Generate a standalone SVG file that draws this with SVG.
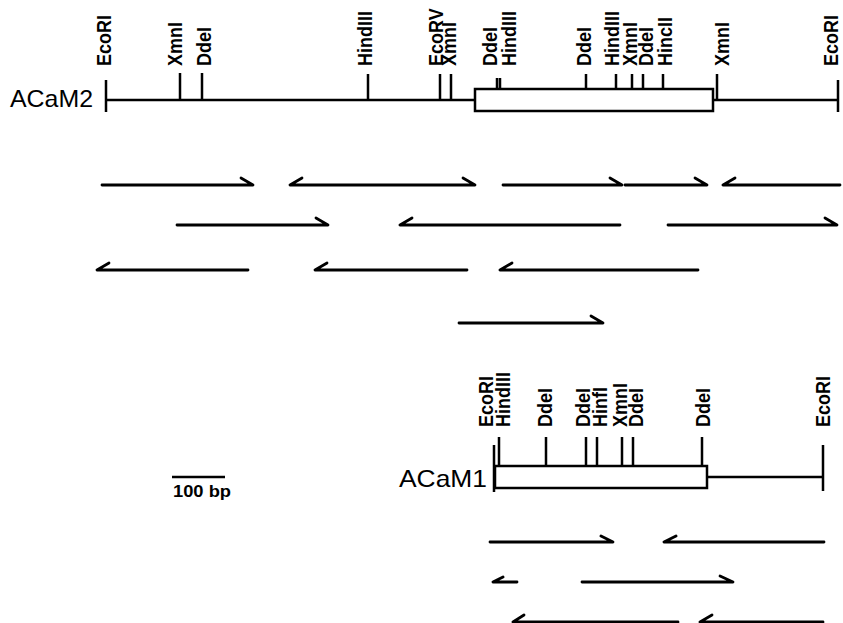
<svg xmlns="http://www.w3.org/2000/svg" width="843" height="623" viewBox="0 0 843 623">
<style>
.ln{stroke:#000;stroke-width:2.5;fill:none}
.bx{stroke:#000;stroke-width:2.5;fill:#fff}
.ar{stroke:#000;stroke-width:2.8;fill:none;stroke-linecap:round;stroke-linejoin:round}
.lb{font-family:"Liberation Sans",Arial,sans-serif;font-weight:bold;font-size:18px;fill:#000}
.nm{font-family:"Liberation Sans",Arial,sans-serif;font-size:24px;fill:#000}
.sc{font-family:"Liberation Sans",Arial,sans-serif;font-weight:bold;font-size:16px;fill:#000}
</style>
<rect width="843" height="623" fill="#fff"/>

<g id="ACaM2">
<text class="nm" x="10" y="107" textLength="83" lengthAdjust="spacingAndGlyphs">ACaM2</text>
<path class="ln" d="M106 100H475M713 100H838"/>
<rect class="bx" x="475" y="89" width="238" height="22"/>
<path class="ln" d="M106 80V112M180 73V100M202 73V100M368 74V100M440 74V100M451 74V100M497 78V89M500 78V89M586 74V89M616 74V89M632 74V89M643 74V89M663 74V89M717 74V100M838 80V112"/>
<g class="lb">
<text transform="translate(111,66) rotate(-90) scale(1,1.15)">EcoRI</text>
<text transform="translate(182,66) rotate(-90) scale(1,1.15)">XmnI</text>
<text transform="translate(211,66) rotate(-90) scale(1,1.15)">DdeI</text>
<text transform="translate(372,66) rotate(-90) scale(1,1.15)">HindIII</text>
<text transform="translate(443,66) rotate(-90) scale(1,1.15)">EcoRV</text>
<text transform="translate(456,66) rotate(-90) scale(1,1.15)">XmnI</text>
<text transform="translate(497,66) rotate(-90) scale(1,1.15)">DdeI</text>
<text transform="translate(516,66) rotate(-90) scale(1,1.15)">HindIII</text>
<text transform="translate(591,66) rotate(-90) scale(1,1.15)">DdeI</text>
<text transform="translate(619,66) rotate(-90) scale(1,1.15)">HindIII</text>
<text transform="translate(637,66) rotate(-90) scale(1,1.15)">XmnI</text>
<text transform="translate(653,66) rotate(-90) scale(1,1.15)">DdeI</text>
<text transform="translate(672,66) rotate(-90) scale(1,1.15)">HincII</text>
<text transform="translate(729,66) rotate(-90) scale(1,1.15)">XmnI</text>
<text transform="translate(838,66) rotate(-90) scale(1,1.15)">EcoRI</text>
</g>
</g>

<g id="fragments-ACaM2">
<path class="ar" d="M102 185H253L241 178"/>
<path class="ar" d="M302 178L290 185H475L463 178"/>
<path class="ar" d="M503 185H622L610 178"/>
<path class="ar" d="M625 185H707L695 178"/>
<path class="ar" d="M735 178L723 185H840"/>
<path class="ar" d="M177 225H328L316 218"/>
<path class="ar" d="M412 218L400 225H620"/>
<path class="ar" d="M668 225H837L825 218"/>
<path class="ar" d="M109 263L97 270H248"/>
<path class="ar" d="M327 263L315 270H467"/>
<path class="ar" d="M512 263L500 270H698"/>
<path class="ar" d="M459 323H603L591 316"/>
</g>

<g id="scale">
<path class="ln" d="M172 477H225"/>
<text class="sc" x="173" y="497" textLength="58" lengthAdjust="spacingAndGlyphs">100 bp</text>
</g>

<g id="ACaM1">
<text class="nm" x="399" y="487" textLength="88" lengthAdjust="spacingAndGlyphs">ACaM1</text>
<path class="ln" d="M707 477H823"/>
<rect class="bx" x="495" y="466" width="212" height="22"/>
<path class="ln" d="M494 445V492M823 445V491M499 437V466M546 437V466M586 437V466M597 437V466M622 437V466M633 437V466M702 437V466"/>
<g class="lb">
<text transform="translate(493,427) rotate(-90) scale(1,1.15)">EcoRI</text>
<text transform="translate(510,427) rotate(-90) scale(1,1.15)">HindIII</text>
<text transform="translate(552,427) rotate(-90) scale(1,1.15)">DdeI</text>
<text transform="translate(590,427) rotate(-90) scale(1,1.15)">DdeI</text>
<text transform="translate(607,427) rotate(-90) scale(1,1.15)">HinfI</text>
<text transform="translate(627,427) rotate(-90) scale(1,1.15)">XmnI</text>
<text transform="translate(643,427) rotate(-90) scale(1,1.15)">DdeI</text>
<text transform="translate(710,427) rotate(-90) scale(1,1.15)">DdeI</text>
<text transform="translate(830,427) rotate(-90) scale(1,1.15)">EcoRI</text>
</g>
</g>

<g id="fragments-ACaM1">
<path class="ar" d="M490 542H613L601 536"/>
<path class="ar" d="M676 536L664 542H824"/>
<path class="ar" d="M503 577L493 582H517"/>
<path class="ar" d="M582 582H733L720 576"/>
<path class="ar" d="M524 615L513 622H678"/>
<path class="ar" d="M712 615L700 622H823"/>
</g>
</svg>
